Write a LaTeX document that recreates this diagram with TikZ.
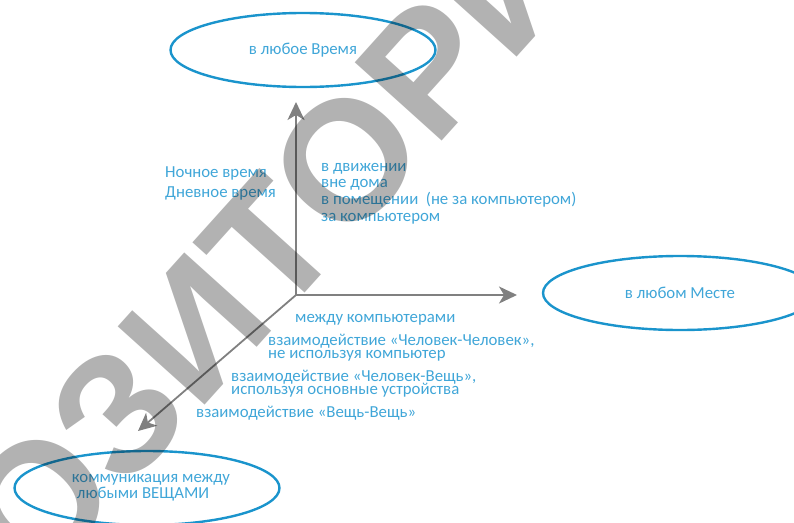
\documentclass[tikz,border=0pt]{standalone}
\usepackage{fontspec}
\setmainfont{Carlito}
\newfontfamily\wmfont{Liberation Sans}
\usetikzlibrary{arrows.meta,shapes.geometric}
\definecolor{txtblue}{RGB}{64,166,216}
\definecolor{ringblue}{RGB}{26,148,204}
\definecolor{axisgray}{RGB}{128,128,128}

\begin{document}
\begin{tikzpicture}[x=1pt,y=1pt,
  ring/.style={ellipse, draw=ringblue, line width=2.4pt, inner sep=0pt,
    minimum width=265pt, minimum height=74pt, text=txtblue,
    font=\fontsize{16.8}{16}\selectfont},
  axisline/.style={draw=axisgray, line width=1.8pt,
    -{Stealth[length=18pt, width=17pt, inset=5pt]}},
  lbl/.style={anchor=base west, inner sep=0pt, text=txtblue,
    font=\fontsize{16.8}{18}\selectfont},
  stampstyle/.style={font=\wmfont\bfseries\fontsize{170}{170}\selectfont,
    text=black, opacity=0.3, inner sep=0pt}
]
\useasboundingbox (0,0) rectangle (794,-522);

% the three target ellipses
\node[ring] (time)  at (303,-50)  {в любое Время};
\node[ring, minimum width=274pt] (place) at (680,-293) {в любом Месте};
\node[ring, align=left] (things) at (147,-488)
  {\hspace*{8pt}коммуникация между\\\hspace*{13pt}любыми ВЕЩАМИ};

% axes
\coordinate (o) at (296,-295);
\coordinate (up) at (296,-102);
\coordinate (right) at (517,-295);
\coordinate (down) at (138,-431);
\draw[axisline] (o) -- (up);
\draw[axisline] (o) -- (right);
\draw[axisline] (o) -- (down);

% time of day
\node[lbl] (night) at (165,-177) {Ночное время};
\node[lbl] (day)   at (165,-197) {Дневное время};

% location
\node[lbl] (move)  at (321,-171) {в движении};
\node[lbl] (out)   at (321,-187) {вне дома};
\node[lbl] (room)  at (321,-204) {в помещении\ \ (не за компьютером)};
\node[lbl] (desk)  at (321,-221) {за компьютером};

% kinds of interaction
\node[lbl] (pc)    at (295,-322) {между компьютерами};
\node[lbl] (hh1)   at (268,-345) {взаимодействие «Человек-Человек»,};
\node[lbl] (hh2)   at (268,-358) {не используя компьютер};
\node[lbl] (ht1)   at (231,-381) {взаимодействие «Человек-Вещь»,};
\node[lbl] (ht2)   at (231,-394) {используя основные устройства};
\node[lbl] (tt)    at (196,-417) {взаимодействие «Вещь-Вещь»};

% repository stamp
\node[stampstyle, rotate=48] (stamp) at (182,-316) {РЕПОЗИТОРИЙ};
\end{tikzpicture}
\end{document}
